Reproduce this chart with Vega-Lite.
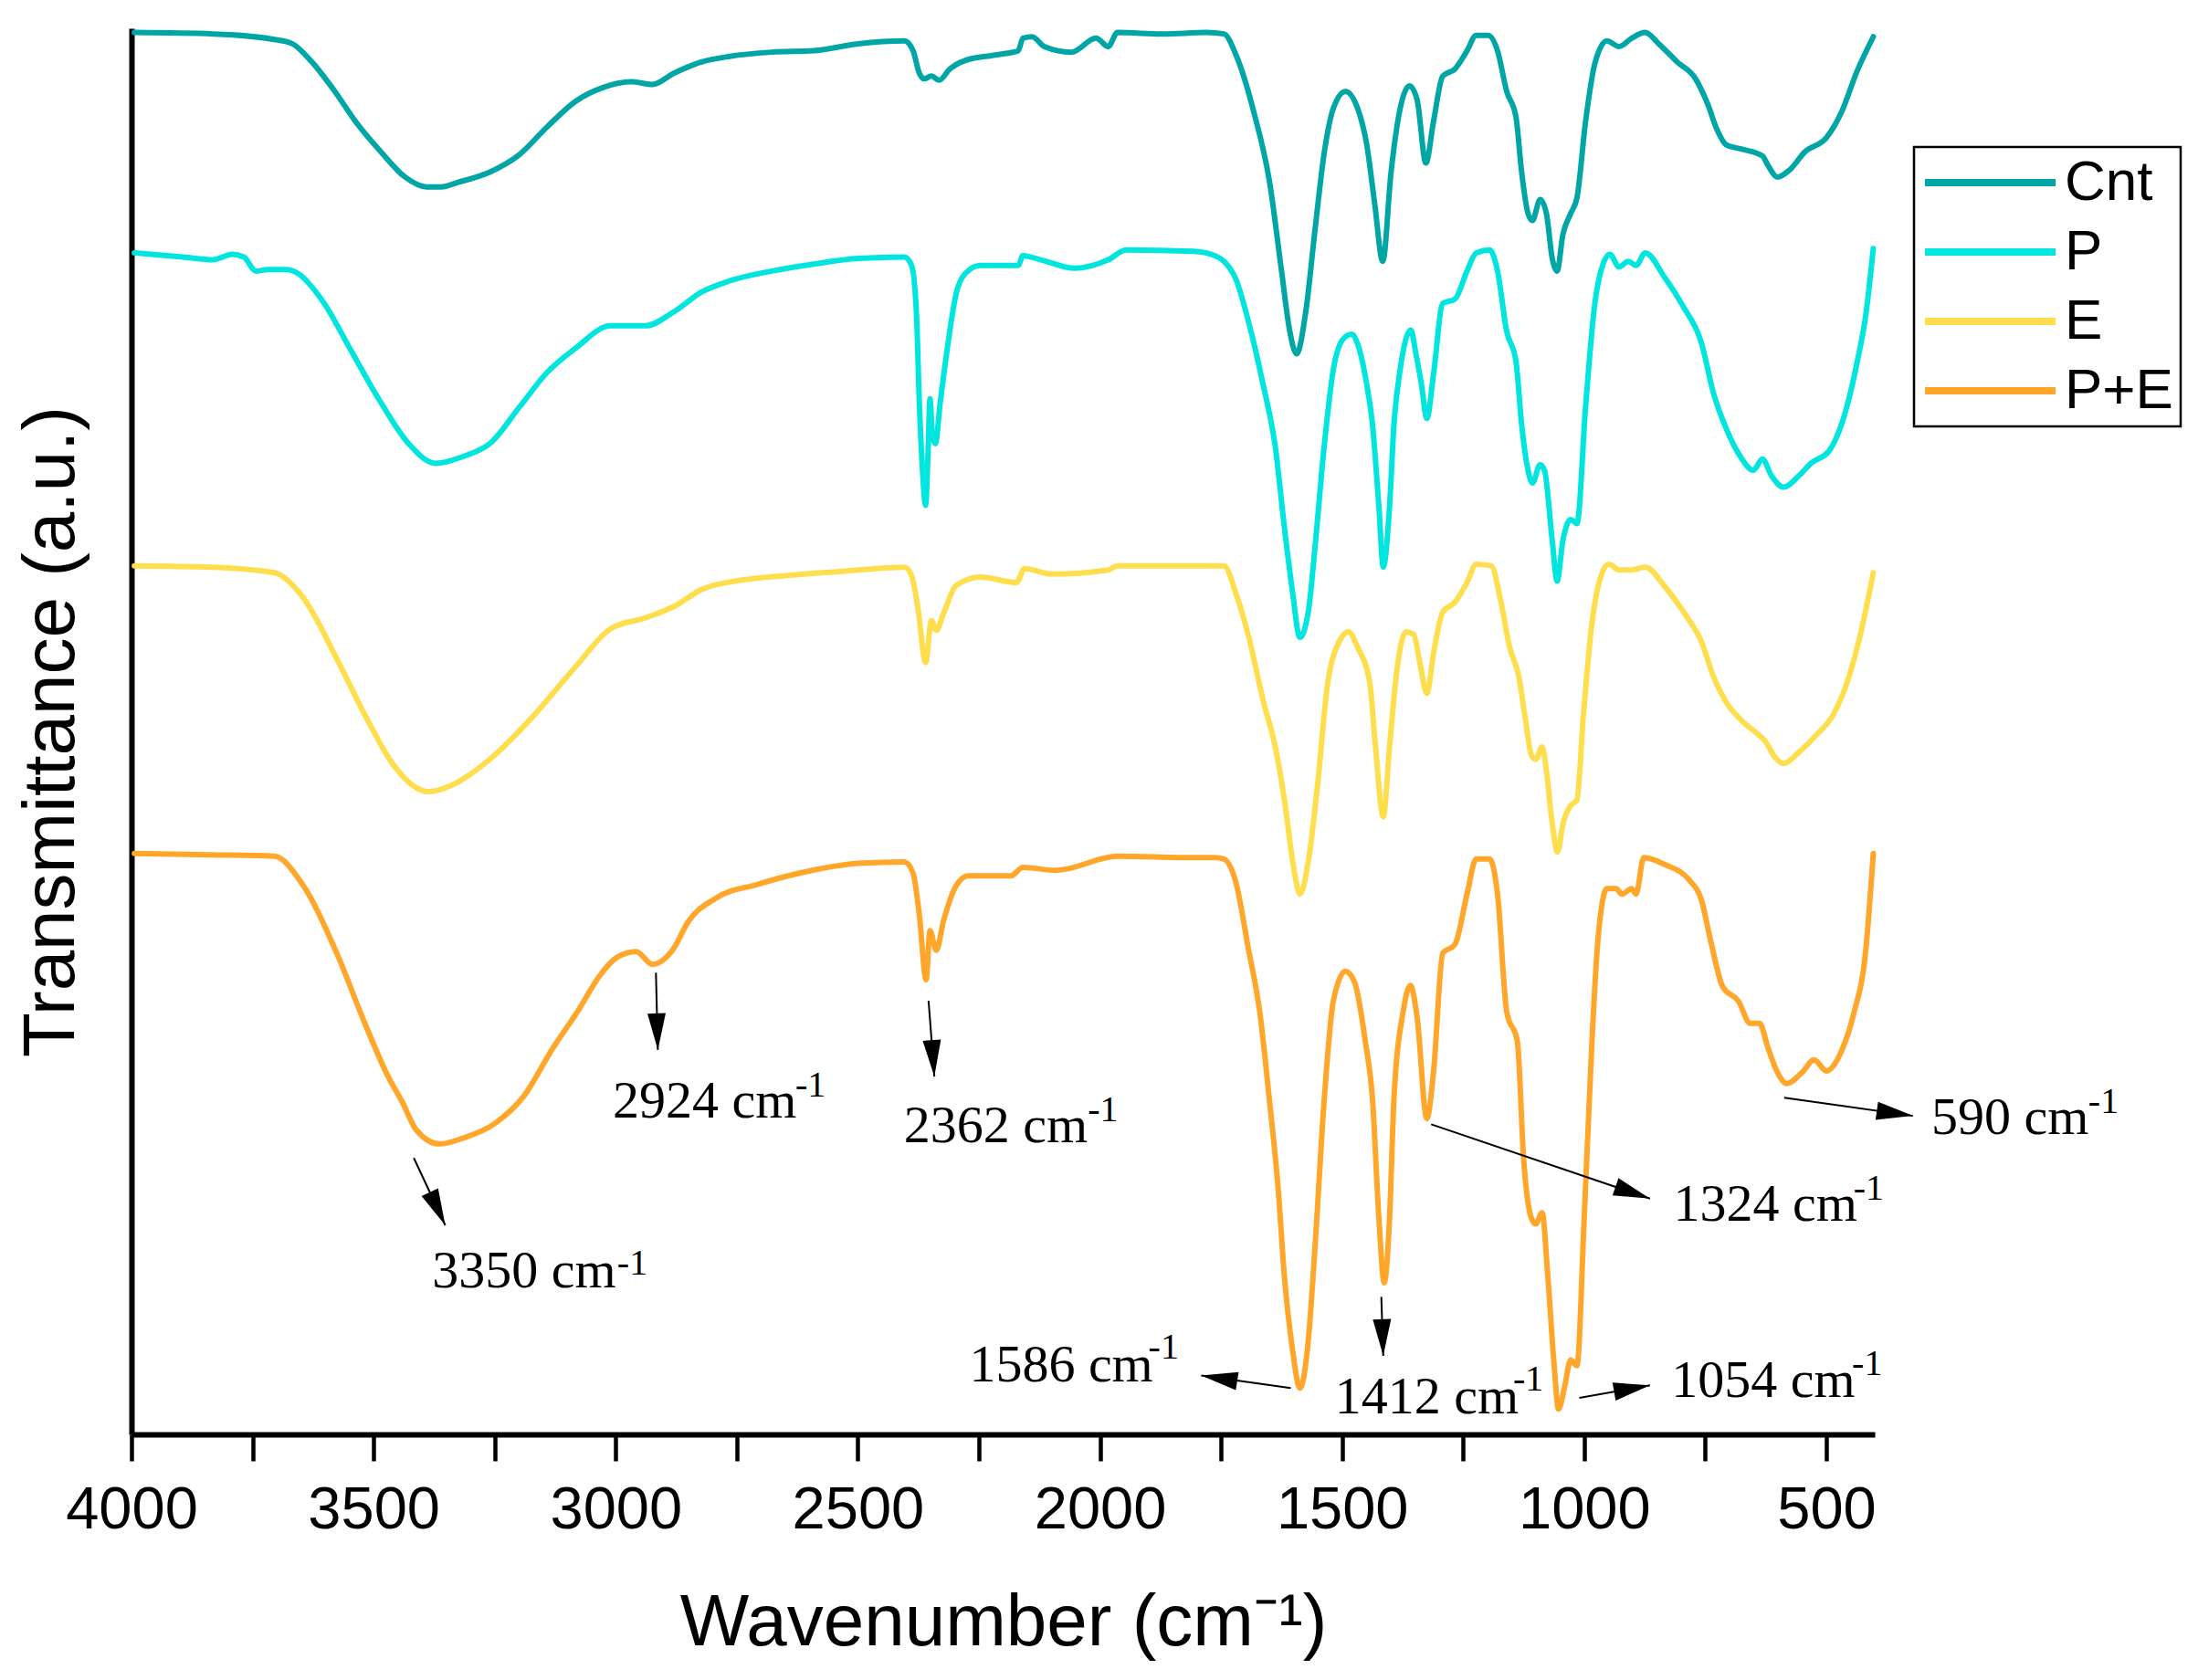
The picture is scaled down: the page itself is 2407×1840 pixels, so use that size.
{
"$schema": "https://vega.github.io/schema/vega-lite/v6.json",
"width": 1909,
"height": 1540,
"autosize": {"type": "none"},
"padding": {"left": 144, "top": 31, "right": 354, "bottom": 269},
"background": "white",
"config": {"view": {"stroke": null}, "axis": {"grid": false}, "legend": {"strokeWidth": 2.5}},
"datasets": {
"spectra": [
{"series":"Cnt","wn":3994,"T":999},{"series":"Cnt","wn":3831,"T":998},{"series":"Cnt","wn":3705,"T":994},{"series":"Cnt","wn":3668,"T":991},{"series":"Cnt","wn":3630,"T":979},{"series":"Cnt","wn":3580,"T":957},{"series":"Cnt","wn":3536,"T":935},{"series":"Cnt","wn":3485,"T":914},{"series":"Cnt","wn":3435,"T":896},{"series":"Cnt","wn":3391,"T":889},{"series":"Cnt","wn":3360,"T":889},{"series":"Cnt","wn":3328,"T":892},{"series":"Cnt","wn":3257,"T":900},{"series":"Cnt","wn":3199,"T":912},{"series":"Cnt","wn":3141,"T":932},{"series":"Cnt","wn":3083,"T":950},{"series":"Cnt","wn":3025,"T":960},{"series":"Cnt","wn":2967,"T":964},{"series":"Cnt","wn":2924,"T":962},{"series":"Cnt","wn":2880,"T":970},{"series":"Cnt","wn":2823,"T":978},{"series":"Cnt","wn":2765,"T":982},{"series":"Cnt","wn":2678,"T":985},{"series":"Cnt","wn":2591,"T":986},{"series":"Cnt","wn":2499,"T":991},{"series":"Cnt","wn":2404,"T":993},{"series":"Cnt","wn":2386,"T":986},{"series":"Cnt","wn":2373,"T":970},{"series":"Cnt","wn":2363,"T":966},{"series":"Cnt","wn":2348,"T":968},{"series":"Cnt","wn":2332,"T":965},{"series":"Cnt","wn":2310,"T":973},{"series":"Cnt","wn":2279,"T":979},{"series":"Cnt","wn":2216,"T":983},{"series":"Cnt","wn":2169,"T":986},{"series":"Cnt","wn":2159,"T":995},{"series":"Cnt","wn":2140,"T":996},{"series":"Cnt","wn":2115,"T":989},{"series":"Cnt","wn":2059,"T":985},{"series":"Cnt","wn":2008,"T":995},{"series":"Cnt","wn":1983,"T":989},{"series":"Cnt","wn":1964,"T":999},{"series":"Cnt","wn":1870,"T":998},{"series":"Cnt","wn":1780,"T":999},{"series":"Cnt","wn":1744,"T":998},{"series":"Cnt","wn":1719,"T":983},{"series":"Cnt","wn":1682,"T":942},{"series":"Cnt","wn":1650,"T":893},{"series":"Cnt","wn":1625,"T":829},{"series":"Cnt","wn":1609,"T":788},{"series":"Cnt","wn":1594,"T":770},{"series":"Cnt","wn":1575,"T":800},{"series":"Cnt","wn":1556,"T":858},{"series":"Cnt","wn":1537,"T":913},{"series":"Cnt","wn":1518,"T":945},{"series":"Cnt","wn":1493,"T":957},{"series":"Cnt","wn":1468,"T":945},{"series":"Cnt","wn":1449,"T":919},{"series":"Cnt","wn":1433,"T":878},{"series":"Cnt","wn":1416,"T":836},{"series":"Cnt","wn":1399,"T":899},{"series":"Cnt","wn":1380,"T":945},{"series":"Cnt","wn":1361,"T":961},{"series":"Cnt","wn":1345,"T":951},{"series":"Cnt","wn":1327,"T":906},{"series":"Cnt","wn":1311,"T":936},{"series":"Cnt","wn":1292,"T":968},{"series":"Cnt","wn":1267,"T":973},{"series":"Cnt","wn":1242,"T":986},{"series":"Cnt","wn":1223,"T":997},{"series":"Cnt","wn":1198,"T":997},{"series":"Cnt","wn":1179,"T":986},{"series":"Cnt","wn":1160,"T":957},{"series":"Cnt","wn":1141,"T":939},{"series":"Cnt","wn":1129,"T":899},{"series":"Cnt","wn":1116,"T":870},{"series":"Cnt","wn":1107,"T":865},{"series":"Cnt","wn":1091,"T":880},{"series":"Cnt","wn":1078,"T":870},{"series":"Cnt","wn":1066,"T":838},{"series":"Cnt","wn":1056,"T":829},{"series":"Cnt","wn":1044,"T":855},{"series":"Cnt","wn":1028,"T":870},{"series":"Cnt","wn":1015,"T":881},{"series":"Cnt","wn":997,"T":936},{"series":"Cnt","wn":978,"T":977},{"series":"Cnt","wn":953,"T":993},{"series":"Cnt","wn":928,"T":989},{"series":"Cnt","wn":902,"T":995},{"series":"Cnt","wn":874,"T":999},{"series":"Cnt","wn":846,"T":991},{"series":"Cnt","wn":808,"T":978},{"series":"Cnt","wn":770,"T":966},{"series":"Cnt","wn":745,"T":948},{"series":"Cnt","wn":726,"T":930},{"series":"Cnt","wn":707,"T":919},{"series":"Cnt","wn":676,"T":916},{"series":"Cnt","wn":632,"T":911},{"series":"Cnt","wn":620,"T":904},{"series":"Cnt","wn":601,"T":896},{"series":"Cnt","wn":576,"T":901},{"series":"Cnt","wn":544,"T":914},{"series":"Cnt","wn":500,"T":924},{"series":"Cnt","wn":469,"T":942},{"series":"Cnt","wn":437,"T":971},{"series":"Cnt","wn":403,"T":996},
{"series":"P","wn":3994,"T":842},{"series":"P","wn":3894,"T":839},{"series":"P","wn":3831,"T":837},{"series":"P","wn":3812,"T":839},{"series":"P","wn":3793,"T":841},{"series":"P","wn":3768,"T":839},{"series":"P","wn":3743,"T":829},{"series":"P","wn":3718,"T":830},{"series":"P","wn":3680,"T":830},{"series":"P","wn":3655,"T":827},{"series":"P","wn":3604,"T":807},{"series":"P","wn":3546,"T":772},{"series":"P","wn":3488,"T":737},{"series":"P","wn":3430,"T":707},{"series":"P","wn":3372,"T":692},{"series":"P","wn":3314,"T":697},{"series":"P","wn":3257,"T":707},{"series":"P","wn":3199,"T":732},{"series":"P","wn":3141,"T":757},{"series":"P","wn":3083,"T":774},{"series":"P","wn":3011,"T":790},{"series":"P","wn":2938,"T":790},{"series":"P","wn":2880,"T":800},{"series":"P","wn":2823,"T":814},{"series":"P","wn":2765,"T":822},{"series":"P","wn":2678,"T":829},{"series":"P","wn":2591,"T":834},{"series":"P","wn":2499,"T":838},{"series":"P","wn":2404,"T":839},{"series":"P","wn":2389,"T":833},{"series":"P","wn":2379,"T":799},{"series":"P","wn":2373,"T":735},{"series":"P","wn":2367,"T":690},{"series":"P","wn":2360,"T":662},{"series":"P","wn":2355,"T":700},{"series":"P","wn":2351,"T":738},{"series":"P","wn":2346,"T":712},{"series":"P","wn":2340,"T":706},{"series":"P","wn":2330,"T":735},{"series":"P","wn":2316,"T":772},{"series":"P","wn":2297,"T":813},{"series":"P","wn":2279,"T":827},{"series":"P","wn":2247,"T":833},{"series":"P","wn":2169,"T":833},{"series":"P","wn":2159,"T":840},{"series":"P","wn":2122,"T":837},{"series":"P","wn":2052,"T":831},{"series":"P","wn":1983,"T":837},{"series":"P","wn":1946,"T":844},{"series":"P","wn":1807,"T":843},{"series":"P","wn":1763,"T":840},{"series":"P","wn":1744,"T":836},{"series":"P","wn":1719,"T":823},{"series":"P","wn":1694,"T":794},{"series":"P","wn":1663,"T":748},{"series":"P","wn":1638,"T":704},{"series":"P","wn":1619,"T":646},{"series":"P","wn":1603,"T":602},{"series":"P","wn":1587,"T":568},{"series":"P","wn":1569,"T":588},{"series":"P","wn":1556,"T":632},{"series":"P","wn":1537,"T":704},{"series":"P","wn":1518,"T":759},{"series":"P","wn":1499,"T":780},{"series":"P","wn":1480,"T":784},{"series":"P","wn":1465,"T":774},{"series":"P","wn":1449,"T":748},{"series":"P","wn":1437,"T":719},{"series":"P","wn":1424,"T":661},{"series":"P","wn":1415,"T":618},{"series":"P","wn":1402,"T":661},{"series":"P","wn":1393,"T":719},{"series":"P","wn":1380,"T":759},{"series":"P","wn":1358,"T":787},{"series":"P","wn":1348,"T":771},{"series":"P","wn":1336,"T":748},{"series":"P","wn":1325,"T":724},{"series":"P","wn":1311,"T":756},{"series":"P","wn":1292,"T":806},{"series":"P","wn":1267,"T":809},{"series":"P","wn":1242,"T":829},{"series":"P","wn":1223,"T":842},{"series":"P","wn":1195,"T":844},{"series":"P","wn":1179,"T":829},{"series":"P","wn":1160,"T":786},{"series":"P","wn":1141,"T":765},{"series":"P","wn":1129,"T":719},{"series":"P","wn":1116,"T":687},{"series":"P","wn":1107,"T":678},{"series":"P","wn":1091,"T":691},{"series":"P","wn":1082,"T":687},{"series":"P","wn":1066,"T":637},{"series":"P","wn":1056,"T":608},{"series":"P","wn":1044,"T":637},{"series":"P","wn":1028,"T":652},{"series":"P","wn":1015,"T":649},{"series":"P","wn":997,"T":733},{"series":"P","wn":978,"T":806},{"series":"P","wn":960,"T":835},{"series":"P","wn":947,"T":841},{"series":"P","wn":928,"T":832},{"series":"P","wn":909,"T":836},{"series":"P","wn":893,"T":833},{"series":"P","wn":874,"T":842},{"series":"P","wn":833,"T":824},{"series":"P","wn":796,"T":804},{"series":"P","wn":758,"T":778},{"series":"P","wn":733,"T":742},{"series":"P","wn":707,"T":717},{"series":"P","wn":676,"T":696},{"series":"P","wn":651,"T":687},{"series":"P","wn":632,"T":695},{"series":"P","wn":613,"T":683},{"series":"P","wn":588,"T":675},{"series":"P","wn":557,"T":683},{"series":"P","wn":532,"T":692},{"series":"P","wn":494,"T":701},{"series":"P","wn":462,"T":727},{"series":"P","wn":437,"T":763},{"series":"P","wn":418,"T":799},{"series":"P","wn":403,"T":845},
{"series":"E","wn":3994,"T":619},{"series":"E","wn":3835,"T":618},{"series":"E","wn":3705,"T":614},{"series":"E","wn":3647,"T":597},{"series":"E","wn":3575,"T":552},{"series":"E","wn":3517,"T":512},{"series":"E","wn":3459,"T":477},{"series":"E","wn":3401,"T":459},{"series":"E","wn":3387,"T":458},{"series":"E","wn":3343,"T":462},{"series":"E","wn":3257,"T":482},{"series":"E","wn":3170,"T":512},{"series":"E","wn":3083,"T":547},{"series":"E","wn":3011,"T":574},{"series":"E","wn":2938,"T":582},{"series":"E","wn":2880,"T":590},{"series":"E","wn":2823,"T":602},{"series":"E","wn":2736,"T":609},{"series":"E","wn":2649,"T":612},{"series":"E","wn":2533,"T":615},{"series":"E","wn":2404,"T":618},{"series":"E","wn":2389,"T":612},{"series":"E","wn":2376,"T":589},{"series":"E","wn":2360,"T":550},{"series":"E","wn":2348,"T":580},{"series":"E","wn":2338,"T":573},{"series":"E","wn":2323,"T":585},{"series":"E","wn":2297,"T":605},{"series":"E","wn":2247,"T":611},{"series":"E","wn":2172,"T":607},{"series":"E","wn":2156,"T":617},{"series":"E","wn":2097,"T":613},{"series":"E","wn":1983,"T":616},{"series":"E","wn":1964,"T":619},{"series":"E","wn":1744,"T":619},{"series":"E","wn":1719,"T":599},{"series":"E","wn":1694,"T":570},{"series":"E","wn":1663,"T":523},{"series":"E","wn":1638,"T":490},{"series":"E","wn":1619,"T":452},{"series":"E","wn":1601,"T":406},{"series":"E","wn":1587,"T":385},{"series":"E","wn":1569,"T":410},{"series":"E","wn":1550,"T":465},{"series":"E","wn":1531,"T":532},{"series":"E","wn":1506,"T":565},{"series":"E","wn":1487,"T":572},{"series":"E","wn":1468,"T":561},{"series":"E","wn":1443,"T":536},{"series":"E","wn":1431,"T":490},{"series":"E","wn":1415,"T":440},{"series":"E","wn":1402,"T":490},{"series":"E","wn":1387,"T":544},{"series":"E","wn":1368,"T":572},{"series":"E","wn":1352,"T":570},{"series":"E","wn":1339,"T":549},{"series":"E","wn":1325,"T":528},{"series":"E","wn":1311,"T":557},{"series":"E","wn":1292,"T":586},{"series":"E","wn":1267,"T":593},{"series":"E","wn":1242,"T":607},{"series":"E","wn":1223,"T":620},{"series":"E","wn":1192,"T":619},{"series":"E","wn":1173,"T":595},{"series":"E","wn":1154,"T":561},{"series":"E","wn":1135,"T":540},{"series":"E","wn":1122,"T":511},{"series":"E","wn":1109,"T":484},{"series":"E","wn":1100,"T":481},{"series":"E","wn":1087,"T":490},{"series":"E","wn":1078,"T":473},{"series":"E","wn":1066,"T":435},{"series":"E","wn":1055,"T":415},{"series":"E","wn":1044,"T":435},{"series":"E","wn":1028,"T":448},{"series":"E","wn":1015,"T":452},{"series":"E","wn":1002,"T":511},{"series":"E","wn":984,"T":578},{"series":"E","wn":965,"T":612},{"series":"E","wn":949,"T":620},{"series":"E","wn":928,"T":616},{"series":"E","wn":902,"T":616},{"series":"E","wn":874,"T":618},{"series":"E","wn":833,"T":604},{"series":"E","wn":789,"T":583},{"series":"E","wn":758,"T":565},{"series":"E","wn":733,"T":540},{"series":"E","wn":707,"T":522},{"series":"E","wn":676,"T":509},{"series":"E","wn":645,"T":500},{"series":"E","wn":626,"T":494},{"series":"E","wn":607,"T":483},{"series":"E","wn":588,"T":478},{"series":"E","wn":557,"T":486},{"series":"E","wn":519,"T":499},{"series":"E","wn":487,"T":512},{"series":"E","wn":456,"T":537},{"series":"E","wn":431,"T":568},{"series":"E","wn":403,"T":614},
{"series":"P+E","wn":3994,"T":414},{"series":"P+E","wn":3835,"T":413},{"series":"P+E","wn":3705,"T":412},{"series":"P+E","wn":3647,"T":392},{"series":"P+E","wn":3575,"T":342},{"series":"P+E","wn":3517,"T":292},{"series":"P+E","wn":3470,"T":255},{"series":"P+E","wn":3441,"T":237},{"series":"P+E","wn":3412,"T":217},{"series":"P+E","wn":3364,"T":207},{"series":"P+E","wn":3316,"T":211},{"series":"P+E","wn":3248,"T":222},{"series":"P+E","wn":3190,"T":241},{"series":"P+E","wn":3132,"T":274},{"series":"P+E","wn":3074,"T":304},{"series":"P+E","wn":3035,"T":326},{"series":"P+E","wn":2997,"T":340},{"series":"P+E","wn":2958,"T":344},{"series":"P+E","wn":2924,"T":335},{"series":"P+E","wn":2881,"T":346},{"series":"P+E","wn":2851,"T":365},{"series":"P+E","wn":2794,"T":382},{"series":"P+E","wn":2707,"T":392},{"series":"P+E","wn":2620,"T":400},{"series":"P+E","wn":2499,"T":407},{"series":"P+E","wn":2404,"T":408},{"series":"P+E","wn":2386,"T":400},{"series":"P+E","wn":2373,"T":370},{"series":"P+E","wn":2359,"T":324},{"series":"P+E","wn":2351,"T":359},{"series":"P+E","wn":2338,"T":345},{"series":"P+E","wn":2323,"T":366},{"series":"P+E","wn":2297,"T":391},{"series":"P+E","wn":2272,"T":398},{"series":"P+E","wn":2184,"T":398},{"series":"P+E","wn":2159,"T":404},{"series":"P+E","wn":2090,"T":402},{"series":"P+E","wn":1964,"T":412},{"series":"P+E","wn":1807,"T":411},{"series":"P+E","wn":1763,"T":411},{"series":"P+E","wn":1744,"T":410},{"series":"P+E","wn":1719,"T":393},{"series":"P+E","wn":1694,"T":347},{"series":"P+E","wn":1670,"T":301},{"series":"P+E","wn":1650,"T":238},{"series":"P+E","wn":1632,"T":175},{"series":"P+E","wn":1619,"T":112},{"series":"P+E","wn":1603,"T":62},{"series":"P+E","wn":1587,"T":33},{"series":"P+E","wn":1569,"T":70},{"series":"P+E","wn":1556,"T":133},{"series":"P+E","wn":1537,"T":238},{"series":"P+E","wn":1518,"T":309},{"series":"P+E","wn":1493,"T":330},{"series":"P+E","wn":1474,"T":322},{"series":"P+E","wn":1452,"T":280},{"series":"P+E","wn":1437,"T":238},{"series":"P+E","wn":1424,"T":154},{"series":"P+E","wn":1413,"T":108},{"series":"P+E","wn":1402,"T":154},{"series":"P+E","wn":1393,"T":238},{"series":"P+E","wn":1374,"T":301},{"series":"P+E","wn":1359,"T":320},{"series":"P+E","wn":1345,"T":297},{"series":"P+E","wn":1325,"T":225},{"series":"P+E","wn":1311,"T":259},{"series":"P+E","wn":1292,"T":343},{"series":"P+E","wn":1267,"T":349},{"series":"P+E","wn":1242,"T":385},{"series":"P+E","wn":1223,"T":410},{"series":"P+E","wn":1195,"T":410},{"series":"P+E","wn":1179,"T":385},{"series":"P+E","wn":1160,"T":301},{"series":"P+E","wn":1138,"T":280},{"series":"P+E","wn":1125,"T":196},{"series":"P+E","wn":1109,"T":154},{"series":"P+E","wn":1100,"T":150},{"series":"P+E","wn":1087,"T":158},{"series":"P+E","wn":1075,"T":112},{"series":"P+E","wn":1062,"T":49},{"series":"P+E","wn":1053,"T":18},{"series":"P+E","wn":1041,"T":33},{"series":"P+E","wn":1028,"T":53},{"series":"P+E","wn":1015,"T":49},{"series":"P+E","wn":1000,"T":154},{"series":"P+E","wn":984,"T":280},{"series":"P+E","wn":972,"T":351},{"series":"P+E","wn":953,"T":389},{"series":"P+E","wn":934,"T":389},{"series":"P+E","wn":922,"T":385},{"series":"P+E","wn":902,"T":389},{"series":"P+E","wn":893,"T":385},{"series":"P+E","wn":877,"T":411},{"series":"P+E","wn":833,"T":406},{"series":"P+E","wn":783,"T":395},{"series":"P+E","wn":758,"T":381},{"series":"P+E","wn":739,"T":352},{"series":"P+E","wn":714,"T":319},{"series":"P+E","wn":682,"T":309},{"series":"P+E","wn":657,"T":293},{"series":"P+E","wn":638,"T":293},{"series":"P+E","wn":620,"T":275},{"series":"P+E","wn":601,"T":258},{"series":"P+E","wn":582,"T":250},{"series":"P+E","wn":550,"T":258},{"series":"P+E","wn":525,"T":267},{"series":"P+E","wn":500,"T":259},{"series":"P+E","wn":469,"T":273},{"series":"P+E","wn":444,"T":299},{"series":"P+E","wn":418,"T":347},{"series":"P+E","wn":403,"T":414}
],
"labels": [
{"label":"3350 cm","wn":3379,"T":105,"supWn":2997,"supT":114},
{"label":"2924 cm","wn":3006,"T":226,"supWn":2629,"supT":241},
{"label":"2362 cm","wn":2405,"T":208,"supWn":2025,"supT":223},
{"label":"1324 cm","wn":816,"T":152,"supWn":444,"supT":167},
{"label":"1586 cm","wn":2270,"T":38,"supWn":1900,"supT":54},
{"label":"1412 cm","wn":1515,"T":15,"supWn":1147,"supT":31},
{"label":"1054 cm","wn":820,"T":27,"supWn":447,"supT":42},
{"label":"590 cm","wn":283,"T":214,"supWn":-41,"supT":229}
],
"arrows": [
{"wn":3417,"T":197,"wn2":3352,"T2":149,"dir":155},
{"wn":2917,"T":329,"wn2":2913,"T2":274,"dir":178},
{"wn":2354,"T":309,"wn2":2342,"T2":255,"dir":176},
{"wn":1316,"T":221,"wn2":864,"T2":168,"dir":109},
{"wn":1606,"T":33,"wn2":1791,"T2":42,"dir":279},
{"wn":1419,"T":98,"wn2":1415,"T2":56,"dir":178},
{"wn":1010,"T":26,"wn2":864,"T2":35,"dir":80},
{"wn":587,"T":240,"wn2":321,"T2":227,"dir":98}
]
},
"layer": [
{
"data": {"name": "spectra"},
"mark": {"type": "line", "strokeWidth": 6, "strokeJoin": "round", "strokeCap": "round", "interpolate": "monotone"},
"encoding": {
"x": {"field": "wn", "type": "quantitative", "title": "Wavenumber (cm⁻¹)", "scale": {"domain": [400, 4000], "reverse": true, "nice": false, "zero": false},
"axis": {"values": [4000,3750,3500,3250,3000,2750,2500,2250,2000,1750,1500,1250,1000,750,500], "format": "d",
"labelExpr": "datum.value % 500 === 0 ? datum.label : ''", "labelFlush": false, "labelOverlap": false,
"tickSize": 29, "tickWidth": 4.5, "tickColor": "black", "domainColor": "black", "domainWidth": 6,
"labelFont": "Liberation Sans", "labelFontSize": 65, "labelColor": "black", "labelPadding": 22,
"titleFont": "Liberation Sans", "titleFontSize": 80, "titleFontWeight": "normal", "titleColor": "black", "titlePadding": 52,
"encode": {"ticks": {"update": {"y2": {"signal": "datum.value % 500 === 0 ? 29 : 15"}}}}}},
"y": {"field": "T", "type": "quantitative", "title": "Transmittance (a.u.)", "scale": {"domain": [0, 1002], "nice": false, "zero": false},
"axis": {"ticks": false, "labels": false, "domainColor": "black", "domainWidth": 6,
"titleFont": "Liberation Sans", "titleFontSize": 80, "titleFontWeight": "normal", "titleColor": "black", "titlePadding": 47}},
"color": {"field": "series", "type": "nominal",
"scale": {"domain": ["Cnt", "P", "E", "P+E"], "range": ["#00A6A6", "#00E6DF", "#FFDE4D", "#FFA62B"]},
"legend": {"orient": "none", "legendX": 1952, "legendY": 130, "direction": "vertical", "title": null,
"symbolType": "stroke", "symbolSize": 20449, "symbolStrokeWidth": 8, "clipHeight": 62, "labelFont": "Liberation Sans", "labelFontSize": 62,
"labelColor": "black", "labelOffset": 6, "rowPadding": 14, "padding": 8, "strokeColor": "black", "labelLimit": 0}}
}
},
{
"data": {"name": "arrows"},
"mark": {"type": "rule", "color": "black", "strokeWidth": 2},
"encoding": {
"x": {"field": "wn", "type": "quantitative", "title": "Wavenumber (cm⁻¹)"},
"y": {"field": "T", "type": "quantitative", "title": "Transmittance (a.u.)"},
"x2": {"field": "wn2"},
"y2": {"field": "T2"}
}
},
{
"data": {"name": "arrows"},
"mark": {"type": "point", "shape": "M0,0L0.5,2L-0.5,2Z", "filled": true, "color": "black", "opacity": 1, "size": 1600, "strokeWidth": 0},
"encoding": {
"x": {"field": "wn2", "type": "quantitative", "title": "Wavenumber (cm⁻¹)"},
"y": {"field": "T2", "type": "quantitative", "title": "Transmittance (a.u.)"},
"angle": {"field": "dir", "type": "quantitative", "scale": null}
}
},
{
"data": {"name": "labels"},
"mark": {"type": "text", "font": "Liberation Serif", "fontSize": 58, "align": "left", "baseline": "alphabetic", "color": "black"},
"encoding": {
"x": {"field": "wn", "type": "quantitative", "title": "Wavenumber (cm⁻¹)"},
"y": {"field": "T", "type": "quantitative", "title": "Transmittance (a.u.)"},
"text": {"field": "label"}
}
},
{
"data": {"name": "labels"},
"mark": {"type": "text", "font": "Liberation Serif", "fontSize": 40, "align": "left", "baseline": "alphabetic", "color": "black", "text": "-1"},
"encoding": {
"x": {"field": "supWn", "type": "quantitative", "title": "Wavenumber (cm⁻¹)"},
"y": {"field": "supT", "type": "quantitative", "title": "Transmittance (a.u.)"}
}
}
]
}
